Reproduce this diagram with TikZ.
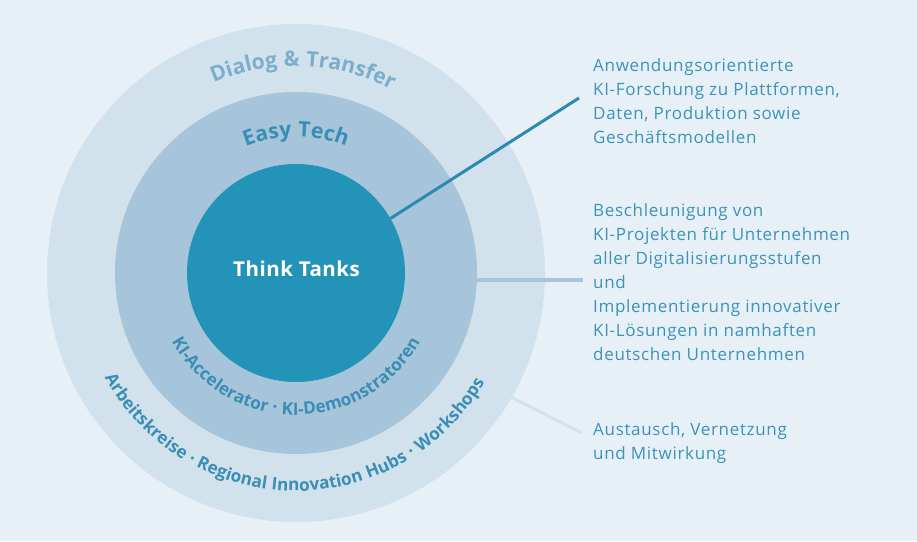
\documentclass[tikz,border=0pt]{standalone}
\usepackage{fontspec}
\setmainfont{Open Sans}
\newfontfamily\rfont{Open Sans}[LetterSpace=4]
\newfontfamily\cfont{Open Sans}[LetterSpace=2.5]
\usetikzlibrary{decorations.text,calc}
\definecolor{bgc}{HTML}{E8F0F7}
\definecolor{outerc}{HTML}{D2E2ED}
\definecolor{midc}{HTML}{A7C5DA}
\definecolor{innerc}{HTML}{2493B8}
\definecolor{rtextc}{HTML}{3B93B8}
\definecolor{dialogc}{HTML}{7AAFCC}
\definecolor{ringtextc}{HTML}{3A8DB4}
\definecolor{line1c}{HTML}{2A8BB1}
\newcommand\fbig{\cfont\bfseries\fontsize{21.2}{21.2}\selectfont}
\newcommand\fsmall{\cfont\bfseries\fontsize{17.2}{17.2}\selectfont}
\begin{document}
\begin{tikzpicture}[x=1pt,y=1pt,
  ring/.style={circle, inner sep=0pt, draw=none},
  rtext/.style={anchor=north west, align=left, inner sep=0pt, text=rtextc,
    font=\rfont\fontsize{17}{24}\selectfont}
]
\useasboundingbox (0,0) rectangle (917,541);
\fill[bgc] (0,0) rectangle (917,541);
\coordinate (C) at (296,268);
\node[ring, minimum size=498, fill=outerc] (outer) at (C) {};
\node[ring, minimum size=362, fill=midc] (mid) at (C) {};
\node[ring, minimum size=218, fill=innerc] (inner) at (C) {};
\node[anchor=base, text=white, font=\cfont\bfseries\fontsize{20.5}{20.5}\selectfont] (tt) at (296.5,264) {Think Tanks};

% curved labels
\path[decorate, decoration={text along path, text align=center, text color=dialogc,
  text={|\fbig|Dialog {\&} Transfer}}]
  ($(C)+(158:207)$) arc[start angle=158, end angle=18, radius=207];
\path[decorate, decoration={text along path, text align=center, text color=ringtextc,
  text={|\fbig|Easy Tech}}]
  ($(C)+(160:136)$) arc[start angle=160, end angle=20, radius=136];
\path[decorate, decoration={text along path, text align=center, text color=ringtextc,
  text={|\fsmall|KI-Accelerator · KI-Demonstratoren}}]
  ($(C)+(185:142)$) arc[start angle=185, end angle=355, radius=142];
\path[decorate, decoration={text along path, text align=center, text color=ringtextc,
  text={|\fsmall|Arbeitskreise · Regional Innovation Hubs · Workshops}}]
  ($(C)+(190:218)$) arc[start angle=190, end angle=348.6, radius=218];

% right texts
\node[rtext] (t1) at (593,483) {Anwendungsorientierte\\KI-Forschung zu Plattformen,\\Daten, Produktion sowie\\Geschäftsmodellen};
\node[rtext] (t2) at (593,338) {Beschleunigung von\\KI-Projekten für Unternehmen\\aller Digitalisierungsstufen\\und\\Implementierung innovativer\\KI-Lösungen in namhaften\\deutschen Unternehmen};
\node[rtext] (t3) at (593,119) {Austausch, Vernetzung\\und Mitwirkung};

% connectors
\coordinate (e1) at (579,443);
\coordinate (e2) at (583,261);
\coordinate (e3) at (582,108);
\draw[line1c, line width=3] (inner.30) -- (e1);
\draw[midc, line width=4] (e2 -| mid.east) -- (e2);
\draw[outerc, line width=3] (outer.-30) -- (e3);
\end{tikzpicture}
\end{document}
